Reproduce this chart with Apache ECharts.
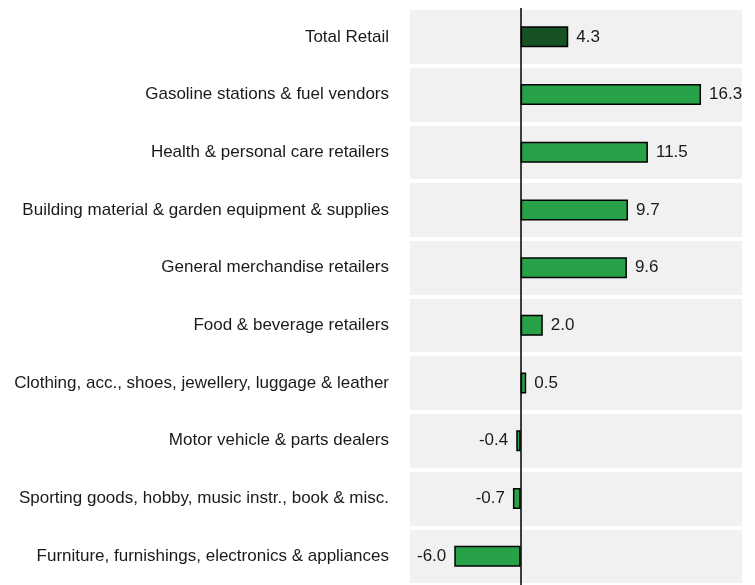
<!DOCTYPE html>
<html>
<head>
<meta charset="utf-8">
<script src="https://cdn.jsdelivr.net/npm/echarts@6/dist/echarts.min.js"></script>
<style>
    html, body { margin: 0; padding: 0; background: #fff; }
    #chart { width: 755px; height: 585px; }
</style>
</head>
<body>
<div id="chart"></div>
<script>
    // categories, top to bottom
    var categories = [
        'Total Retail',
        'Gasoline stations & fuel vendors',
        'Health & personal care retailers',
        'Building material & garden equipment & supplies',
        'General merchandise retailers',
        'Food & beverage retailers',
        'Clothing, acc., shoes, jewellery, luggage & leather',
        'Motor vehicle & parts dealers',
        'Sporting goods, hobby, music instr., book & misc.',
        'Furniture, furnishings, electronics & appliances'
    ]
    // percent change
    var values = [4.3, 16.3, 11.5, 9.7, 9.6, 2.0, 0.5, -0.4, -0.7, -6.0]

    var font = '"Liberation Sans", Arial, sans-serif'

    var chart = echarts.init(document.getElementById('chart'))
    chart.setOption({
        animation: false,
        grid: {
            left: 410,
            top: 8,
            width: 332,
            height: 580
        },
        xAxis: {
            type: 'value',
            min: -10,
            max: 20,
            show: false
        },
        yAxis: {
            type: 'category',
            inverse: true,
            data: categories,
            axisLine: { show: false },
            axisTick: { show: false },
            axisLabel: {
                margin: 21,
                fontSize: 17,
                fontFamily: font,
                color: '#1a1a1a'
            },
            splitArea: {
                show: true,
                areaStyle: { color: ['#f1f1f1'] }
            },
            splitLine: {
                show: true,
                lineStyle: { color: '#ffffff', width: 4 }
            }
        },
        series: [{
            type: 'bar',
            barWidth: 21,
            data: values.map(function (v, i) {
                return {
                    value: v,
                    itemStyle: { color: i === 0 ? '#175224' : '#28a249' },
                    label: { position: v < 0 ? 'left' : 'right' }
                }
            }),
            itemStyle: {
                borderColor: '#000',
                borderWidth: 1.5
            },
            label: {
                show: true,
                distance: 8,
                fontSize: 17,
                fontFamily: font,
                color: '#1a1a1a',
                formatter: function (p) {
                    return p.value.toFixed(1)
                }
            },
            markLine: {
                silent: true,
                symbol: ['none', 'none'],
                label: { show: false },
                lineStyle: { color: '#000', type: 'solid', width: 1.5 },
                data: [{ xAxis: 0 }]
            }
        }]
    })
</script>
</body>
</html>
